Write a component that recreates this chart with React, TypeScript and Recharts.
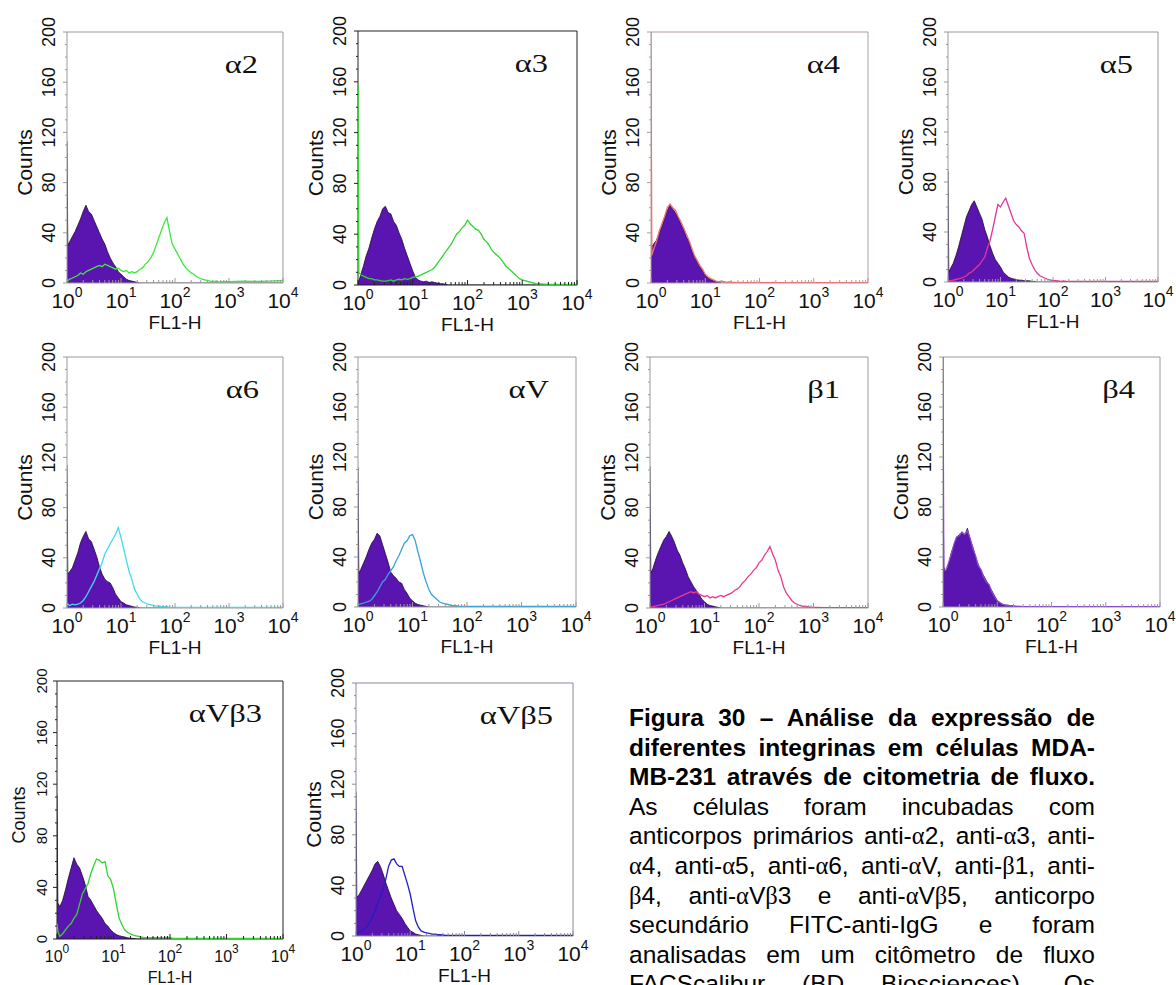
import React from 'react';
import { ComposedChart, Area, Line, XAxis, YAxis, ReferenceArea } from 'recharts';

// FL1-H channel positions (log10 of intensity), shared by every histogram
const BINS = [
  0, 0.015, 0.05, 0.1, 0.15, 0.2, 0.25, 0.3, 0.35, 0.4,
  0.45, 0.5, 0.55, 0.6, 0.65, 0.7, 0.75, 0.8, 0.85, 0.9,
  0.95, 1.0, 1.05, 1.1, 1.15, 1.2, 1.25, 1.3, 1.35, 1.4,
  1.45, 1.5, 1.55, 1.6, 1.65, 1.7, 1.75, 1.8, 1.85, 1.9,
  1.95, 2.0, 2.05, 2.1, 2.15, 2.2, 2.25, 2.3, 2.35, 2.4,
  2.45, 2.5, 2.55, 2.6, 2.65, 2.7, 2.75, 2.8, 2.85, 2.9,
  2.95, 3.0, 3.25, 3.5, 3.75, 4.0,
];

const X_MAJOR = [0, 1, 2, 3, 4];
const X_MINOR_OFFSETS = [0.301, 0.477, 0.602, 0.699, 0.778, 0.845, 0.903, 0.954];
const Y_MAJOR = [0, 40, 80, 120, 160, 200];
const Y_MINOR = [10, 20, 30, 50, 60, 70, 90, 100, 110, 130, 140, 150, 170, 180, 190];

// ---- alpha2 ----
const a2Ctrl = [
  113, 30, 33, 37, 41, 46, 51, 57, 62, 57,
  55, 50, 45, 40, 35, 31, 25, 20, 16, 13,
  9, 7, 5, 3, 2, 1.5, 1, 0.5, 0, 0,
  0, 0, 0, 0, 0, 0, 0, 0, 0, 0,
  0, 0, 0, 0, 0, 0, 0, 0, 0, 0,
  0, 0, 0, 0, 0, 0, 0, 0, 0, 0,
  0, 0, 0, 0, 0, 0,
];
const a2Ab = [
  2, 2, 3, 4, 5, 6, 8, 7, 9, 10,
  11, 12, 13, 14, 13, 15, 14, 13, 12, 11,
  12, 10, 9, 10, 8, 9, 8, 9, 11, 12,
  15, 17, 20, 24, 30, 36, 42, 48, 52, 41,
  31, 27, 23, 19, 15, 12, 10, 8, 7, 5,
  4, 3, 2.5, 2, 1.5, 1, 1.5, 1, 0.8, 1.2,
  1, 1, 1.5, 1.2, 1.5, 2,
];
// ---- alpha3 ----
const a3Ctrl = [
  2, 3, 8, 15, 23, 29, 37, 44, 50, 54,
  60, 62, 57, 56, 50, 47, 41, 36, 29, 23,
  17, 11, 6, 4, 3, 2.5, 3, 2, 2.5, 2,
  1.5, 1, 1, 0.5, 0, 0, 0, 0, 0, 0,
  0, 0, 0, 0, 0, 0, 0, 0, 0, 0,
  0, 0, 0, 0, 0, 0, 0, 0, 0, 0,
  0, 0, 0, 0, 0, 0,
];
const a3Ab = [
  157, 10, 8, 7, 6, 5, 5, 4, 4, 3.5,
  3, 3, 3.5, 4, 3, 4, 4.5, 4, 5, 4.5,
  5, 6, 6.5, 7, 8, 9, 10, 11, 12, 14,
  17, 20, 23, 26, 29, 32, 36, 40, 42, 45,
  47, 51, 48, 46, 44, 43, 40, 36, 34, 31,
  27, 25, 23, 21, 18, 15, 13, 11, 9, 7,
  5, 4, 1, 0.5, 0.5, 0.5,
];
// ---- alpha4 ----
const a4Ctrl = [
  28, 29, 31, 34, 40, 45, 52, 58, 62, 59,
  56, 52, 47, 43, 37, 33, 26, 21, 17, 13,
  10, 6, 4, 3, 2, 1, 0.5, 0, 0, 0,
  0, 0, 0, 0, 0, 0, 0, 0, 0, 0,
  0, 0, 0, 0, 0, 0, 0, 0, 0, 0,
  0, 0, 0, 0, 0, 0, 0, 0, 0, 0,
  0, 0, 0, 0, 0, 0,
];
const a4Ab = [
  200, 22, 27, 33, 41, 47, 53, 60, 63, 60,
  58, 53, 49, 44, 39, 34, 28, 22, 18, 14,
  11, 7, 5, 3.5, 2.5, 1.5, 1, 1.5, 1, 0.5,
  1, 0.5, 0.5, 0.3, 0.5, 0.3, 0.3, 0.5, 0.3, 0.3,
  0.3, 0.5, 0.3, 0.3, 0.3, 0.3, 0.5, 0.3, 0.3, 0.3,
  0.3, 0.3, 0.3, 0.5, 0.3, 0.3, 0.3, 0.3, 0.3, 0.3,
  0.3, 0.3, 0.3, 0.3, 0.3, 0.3,
];
// ---- alpha5 ----
const a5Ctrl = [
  89, 8, 11, 15, 21, 28, 36, 44, 52, 57,
  62, 65, 60, 55, 50, 42, 36, 29, 23, 18,
  15, 12, 8, 6, 4, 3, 2.5, 2, 1.5, 1.5,
  1, 1, 1, 0.5, 0.5, 0, 0, 0, 0, 0,
  0, 0, 0, 0, 0, 0, 0, 0, 0, 0,
  0, 0, 0, 0, 0, 0, 0, 0, 0, 0,
  0, 0, 0, 0, 0, 0,
];
const a5Ab = [
  0, 1, 1, 1.5, 2, 2.5, 3, 4, 5, 7,
  8, 10, 12, 14, 17, 20, 27, 33, 42, 52,
  62, 60, 64, 67, 61, 55, 49, 46, 44, 41,
  39, 28, 19, 14, 10, 7, 5, 4, 3, 2,
  1.5, 1, 1, 0.8, 0.5, 0.8, 0.5, 0.5, 0.5, 0.5,
  0.5, 0.5, 0.5, 0.5, 0.5, 0.5, 0.5, 0.5, 0.5, 0.5,
  0.5, 0.5, 0.5, 0.5, 0.5, 0.5,
];
// ---- alpha6 ----
const a6Ctrl = [
  114, 27, 29, 32, 38, 44, 52, 57, 61, 55,
  53, 47, 41, 33, 27, 23, 21, 20, 16, 11,
  8, 5, 4, 2.5, 2, 1.3, 0.8, 0.5, 0, 0,
  0, 0, 0, 0, 0, 0, 0, 0, 0, 0,
  0, 0, 0, 0, 0, 0, 0, 0, 0, 0,
  0, 0, 0, 0, 0, 0, 0, 0, 0, 0,
  0, 0, 0, 0, 0, 0,
];
const a6Ab = [
  3, 3, 2, 3, 2.5, 3, 4, 6, 9, 13,
  17, 21, 26, 31, 36, 43, 47, 51, 55, 59,
  64, 56, 47, 38, 29, 23, 15, 11, 7, 5,
  4, 3, 2.5, 2, 1.5, 1.5, 1, 1, 1, 0.5,
  0.5, 0.5, 0.5, 0.5, 0.5, 0.5, 0.5, 0.5, 0.5, 0.5,
  0.5, 0.5, 0.5, 0.5, 0.5, 0.5, 0.5, 0.5, 0.5, 0.5,
  0.5, 0.5, 0.5, 0.5, 0.5, 0.5,
];
// ---- alphaV ----
const aVCtrl = [
  112, 27, 30, 35, 40, 46, 51, 54, 59, 57,
  50, 43, 36, 28, 25, 23, 20, 19, 14, 11,
  7, 5, 3, 2, 1.5, 1, 0.5, 0, 0, 0,
  0, 0, 0, 0, 0, 0, 0, 0, 0, 0,
  0, 0, 0, 0, 0, 0, 0, 0, 0, 0,
  0, 0, 0, 0, 0, 0, 0, 0, 0, 0,
  0, 0, 0, 0, 0, 0,
];
const aVAb = [
  2, 2, 2.5, 3, 4, 4.5, 6, 9, 12, 16,
  20, 22, 26, 29, 32, 37, 41, 46, 51, 53,
  57, 58, 53, 44, 36, 27, 20, 14, 10, 8,
  6, 4, 3, 2.5, 2, 1.5, 1, 1, 0.5, 0.5,
  0.5, 0.5, 0.5, 0.5, 0.5, 0.5, 0.5, 0.5, 0.5, 0.5,
  0.5, 0.5, 0.5, 0.5, 0.5, 0.5, 0.5, 0.5, 0.5, 0.5,
  0.5, 0.5, 0.5, 0.5, 0.5, 0.5,
];
// ---- beta1 ----
const b1Ctrl = [
  113, 28, 31, 38, 44, 49, 54, 57, 61, 57,
  52, 46, 42, 36, 31, 25, 21, 17, 14, 11,
  7, 5, 3, 2, 1.5, 1, 0.5, 0, 0, 0,
  0, 0, 0, 0, 0, 0, 0, 0, 0, 0,
  0, 0, 0, 0, 0, 0, 0, 0, 0, 0,
  0, 0, 0, 0, 0, 0, 0, 0, 0, 0,
  0, 0, 0, 0, 0, 0,
];
const b1Ab = [
  0, 0.5, 1, 1.5, 2, 2.5, 3, 4, 5, 6,
  7, 8, 9, 10, 11, 12, 13, 12, 13, 11,
  10, 9, 10, 8, 9, 8, 9, 10, 9, 10,
  11, 12, 14, 15, 17, 20, 22, 25, 27, 30,
  32, 36, 38, 42, 45, 49, 43, 38, 30, 25,
  17, 12, 9, 6, 4, 3, 2, 1.5, 1, 1,
  0.5, 0.5, 0.3, 0.3, 0.3, 0.3,
];
// ---- beta4 ----
const b4Ctrl = [
  105, 32, 28, 33, 43, 49, 55, 58, 59, 57,
  63, 54, 48, 40, 34, 29, 25, 21, 17, 13,
  9, 5, 3, 2, 1.5, 1.5, 1, 1, 0.5, 0.5,
  0.5, 0, 0, 0, 0, 0, 0, 0, 0, 0,
  0, 0, 0, 0, 0, 0, 0, 0, 0, 0,
  0, 0, 0, 0, 0, 0, 0, 0, 0, 0,
  0, 0, 0, 0, 0, 0,
];
const b4Ab = [
  200, 30, 29, 35, 42, 50, 56, 57, 60, 58,
  61, 55, 47, 41, 33, 30, 24, 20, 18, 12,
  8, 5, 3.5, 2, 1.5, 1, 1, 0.5, 0.5, 0.5,
  0.3, 0.3, 0.3, 0.3, 0.3, 0.3, 0.3, 0.3, 0.3, 0.3,
  0.3, 0.3, 0.3, 0.3, 0.3, 0.3, 0.3, 0.3, 0.3, 0.3,
  0.3, 0.3, 0.3, 0.3, 0.3, 0.3, 0.3, 0.3, 0.3, 0.3,
  0.3, 0.3, 0.3, 0.3, 0.3, 0.3,
];
// ---- alphaV beta3 ----
const aVb3Ctrl = [
  112, 28, 25, 30, 38, 47, 55, 63, 58, 55,
  49, 42, 33, 30, 26, 22, 19, 16, 12, 10,
  7, 5, 3.5, 2.5, 2, 1.5, 1, 0.5, 0.5, 0,
  0, 0, 0, 0, 0, 0, 0, 0, 0, 0,
  0, 0, 0, 0, 0, 0, 0, 0, 0, 0,
  0, 0, 0, 0, 0, 0, 0, 0, 0, 0,
  0, 0, 0, 0, 0, 0,
];
const aVb3Ab = [
  12, 6, 2, 4, 7, 10, 12, 16, 19, 27,
  35, 39, 43, 51, 57, 62, 61, 59, 60, 49,
  46, 39, 27, 16, 11, 7, 5, 4, 3, 2.5,
  2, 1.5, 1, 1, 1, 1, 1, 1, 1, 0.8,
  1.5, 1, 0.5, 0.5, 0.5, 0.5, 0.5, 0.5, 0.5, 0.5,
  0.5, 0.5, 0.5, 0.5, 0.5, 0.5, 0.5, 0.5, 0.5, 0.5,
  0.5, 0.5, 0.5, 0.5, 0.5, 0.5,
];
// ---- alphaV beta5 ----
const aVb5Ctrl = [
  114, 31, 32, 36, 40, 44, 48, 52, 57, 59,
  55, 49, 42, 36, 30, 25, 20, 17, 14, 10,
  7, 4, 3, 1.5, 1, 0.5, 0, 0, 0, 0,
  0, 0, 0, 0, 0, 0, 0, 0, 0, 0,
  0, 0, 0, 0, 0, 0, 0, 0, 0, 0,
  0, 0, 0, 0, 0, 0, 0, 0, 0, 0,
  0, 0, 0, 0, 0, 0,
];
const aVb5Ab = [
  3, 2, 3, 4.5, 5.5, 7, 11, 15, 20, 26,
  31, 37, 45, 55, 60, 61, 57, 55, 55, 48,
  41, 33, 22, 12, 7, 4, 3, 2.5, 2, 1.5,
  1.5, 1, 1, 0.8, 0.5, 0.5, 0.5, 0.5, 0.5, 0.5,
  0.5, 0.5, 0.5, 0.5, 0.5, 0.5, 0.5, 0.5, 0.5, 0.5,
  0.5, 0.5, 0.5, 0.5, 0.5, 0.5, 0.5, 0.5, 0.5, 0.5,
  0.5, 0.5, 0.5, 0.5, 0.5, 0.5,
];

const CAPTION_LINES = [
  { text: 'Figura 30 – Análise da expressão de', bold: true },
  { text: 'diferentes integrinas em células MDA-', bold: true },
  { text: 'MB-231 através de citometria de fluxo.', bold: true },
  { text: 'As células foram incubadas com', bold: false },
  { text: 'anticorpos primários anti-α2, anti-α3, anti-', bold: false },
  { text: 'α4, anti-α5, anti-α6, anti-αV, anti-β1, anti-', bold: false },
  { text: 'β4, anti-αVβ3 e anti-αVβ5, anticorpo', bold: false },
  { text: 'secundário FITC-anti-IgG e foram', bold: false },
  { text: 'analisadas em um citômetro de fluxo', bold: false },
  { text: 'FACScalibur (BD Biosciences). Os', bold: false },
];

const SANS = '"Liberation Sans", Arial, Helvetica, sans-serif';
const SERIF = '"Liberation Serif", "Times New Roman", serif';
const PURPLE = '#5a14b0';

const NORMAL = { xFont: 21, supFont: 14, xBase: 25, supDy: 11, yFont: 18, yDx: -18, countsFont: 21, countsDx: -43, flFont: 19, flDy: 46 };
const SMALL = { xFont: 16, supFont: 12, xBase: 23, supDy: 9, yFont: 15, yDx: -16, countsFont: 18, countsDx: -38, flFont: 16, flDy: 44 };

const PANELS = [
  { title: 'α2', l: 67, t: 32, r: 283, b: 283, ctrl: a2Ctrl, ab: a2Ab, color: '#3ee83e', frame: '#9a9a9a', tr: 25, st: NORMAL },
  { title: 'α3', l: 358, t: 31, r: 577, b: 285, ctrl: a3Ctrl, ab: a3Ab, color: '#2ed62e', frame: '#222222', tr: 29, st: NORMAL },
  { title: 'α4', l: 651, t: 32, r: 868, b: 283, ctrl: a4Ctrl, ab: a4Ab, color: '#f07070', frame: '#b59a9a', tr: 28, st: NORMAL },
  { title: 'α5', l: 948, t: 32, r: 1158, b: 282, ctrl: a5Ctrl, ab: a5Ab, color: '#e0399a', frame: '#9a9a9a', tr: 25, st: NORMAL },
  { title: 'α6', l: 67, t: 357, r: 283, b: 608, ctrl: a6Ctrl, ab: a6Ab, color: '#3cdcf0', frame: '#9a9a9a', tr: 24, st: NORMAL },
  { title: 'αV', l: 358, t: 357, r: 576, b: 607, ctrl: aVCtrl, ab: aVAb, color: '#3aa2d8', frame: '#9a9a9a', tr: 27, st: NORMAL },
  { title: 'β1', l: 650, t: 357, r: 868, b: 608, ctrl: b1Ctrl, ab: b1Ab, color: '#e83a8e', frame: '#9a9a9a', tr: 28, st: NORMAL },
  { title: 'β4', l: 943, t: 357, r: 1160, b: 607, ctrl: b4Ctrl, ab: b4Ab, color: '#8a4ad0', frame: '#9a9a9a', tr: 25, st: NORMAL },
  { title: 'αVβ3', l: 57, t: 681, r: 283, b: 939, ctrl: aVb3Ctrl, ab: aVb3Ab, color: '#2ed62e', frame: '#222222', tr: 21, st: SMALL },
  { title: 'αVβ5', l: 356, t: 683, r: 573, b: 936, ctrl: aVb5Ctrl, ab: aVb5Ab, color: '#2020c0', frame: '#8a8aa0', tr: 20, st: NORMAL },
];

const X_MINOR = X_MAJOR.slice(0, 4).flatMap((d) => X_MINOR_OFFSETS.map((o) => d + o));
const X_TICKS = [...X_MAJOR, ...X_MINOR];
const Y_TICKS = [...Y_MAJOR, ...Y_MINOR];

const ML = 62;
const MT = 26;
const MR = 16;
const MB = 54;

function Panel({ p }: { p: any }) {
  const pw = p.r - p.l;
  const ph = p.b - p.t;
  const w = pw + ML + MR;
  const h = ph + MT + MB;
  const st = p.st;
  const data = BINS.map((x, i) => ({ x, ctrl: p.ctrl[i], ab: p.ab[i] }));

  const xTick = (props: any) => {
    const { x, y, payload } = props;
    const v = payload.value;
    const major = X_MAJOR.includes(v);
    return (
      <g>
        <line x1={x} x2={x} y1={y} y2={y - (major ? 5 : 3)} stroke={p.frame} strokeWidth={1} />
        {major && (
          <text x={x} y={y + st.xBase} textAnchor="middle" fontFamily={SANS} fontSize={st.xFont} fill="#111">
            10
            <tspan dy={-st.supDy} fontSize={st.supFont}>{v}</tspan>
          </text>
        )}
        {v === 2 && (
          <text x={x} y={y + st.flDy} textAnchor="middle" fontFamily={SANS} fontSize={st.flFont} fill="#111">
            FL1-H
          </text>
        )}
      </g>
    );
  };

  const yTick = (props: any) => {
    const { x, y, payload } = props;
    const v = payload.value;
    const major = Y_MAJOR.includes(v);
    return (
      <g>
        <line x1={x} x2={x - (major ? 4 : 2)} y1={y} y2={y} stroke={p.frame} strokeWidth={1} />
        {major && (
          <text
            transform={`translate(${x + st.yDx},${y}) rotate(-90)`}
            textAnchor="middle"
            dominantBaseline="central"
            fontFamily={SANS}
            fontSize={st.yFont}
            fill="#111"
          >
            {v}
          </text>
        )}
        {v === 100 && (
          <text
            transform={`translate(${x + st.countsDx},${y + 5}) rotate(-90)`}
            textAnchor="middle"
            dominantBaseline="central"
            fontFamily={SANS}
            fontSize={st.countsFont}
            fill="#111"
          >
            Counts
          </text>
        )}
        {v === 200 && (
          <g transform={`translate(${x + pw - p.tr},${y + 41}) scale(1.25,1)`}>
            <text x={0} y={0} textAnchor="end" fontFamily={SERIF} fontSize={26} fill="#111">
              {p.title}
            </text>
          </g>
        )}
      </g>
    );
  };

  return (
    <div style={{ position: 'absolute', left: p.l - ML, top: p.t - MT, width: w, height: h }}>
      <ComposedChart width={w} height={h} data={data} margin={{ top: MT, right: MR, left: 0, bottom: 0 }}>
        <XAxis
          dataKey="x"
          type="number"
          domain={[0, 4]}
          ticks={X_TICKS}
          interval={0}
          height={MB}
          axisLine={false}
          tickLine={false}
          tickSize={0}
          tickMargin={0}
          tick={xTick}
          allowDataOverflow
        />
        <YAxis
          type="number"
          domain={[0, 200]}
          ticks={Y_TICKS}
          interval={0}
          width={ML}
          axisLine={false}
          tickLine={false}
          tickSize={0}
          tickMargin={0}
          tick={yTick}
          allowDataOverflow
        />
        <Area
          type="linear"
          dataKey="ctrl"
          fill={PURPLE}
          fillOpacity={1}
          stroke="#1c0c30"
          strokeWidth={0.8}
          dot={false}
          activeDot={false}
          isAnimationActive={false}
        />
        <Line
          type="linear"
          dataKey="ab"
          stroke={p.color}
          strokeWidth={1.3}
          dot={false}
          activeDot={false}
          isAnimationActive={false}
        />
        <ReferenceArea x1={0} x2={4} y1={0} y2={200} fill="none" fillOpacity={0} stroke={p.frame} strokeWidth={1} />
      </ComposedChart>
    </div>
  );
}

function CaptionLine({ text, bold }: { text: string; bold: boolean }) {
  const parts = text.split(/([αβ])/);
  return (
    <div
      style={{
        width: 466,
        height: 29.6,
        lineHeight: '29.6px',
        fontSize: 24.5,
        fontFamily: SANS,
        fontWeight: bold ? 700 : 400,
        textAlign: 'justify',
        textAlignLast: 'justify' as any,
        overflow: 'hidden',
        color: '#000',
      }}
    >
      {parts.map((s, i) =>
        s === 'α' || s === 'β' ? (
          <span key={i} style={{ fontFamily: SERIF, fontWeight: 400 }}>{s}</span>
        ) : (
          <span key={i}>{s}</span>
        )
      )}
    </div>
  );
}

export default function App() {
  return (
    <div style={{ position: 'absolute', left: 0, top: 0, width: 1176, height: 985, overflow: 'hidden', background: '#fff' }}>
      {PANELS.map((p) => (
        <Panel key={p.title} p={p} />
      ))}
      <div style={{ position: 'absolute', left: 629, top: 703 }}>
        {CAPTION_LINES.map((ln, i) => (
          <CaptionLine key={i} text={ln.text} bold={ln.bold} />
        ))}
      </div>
    </div>
  );
}
